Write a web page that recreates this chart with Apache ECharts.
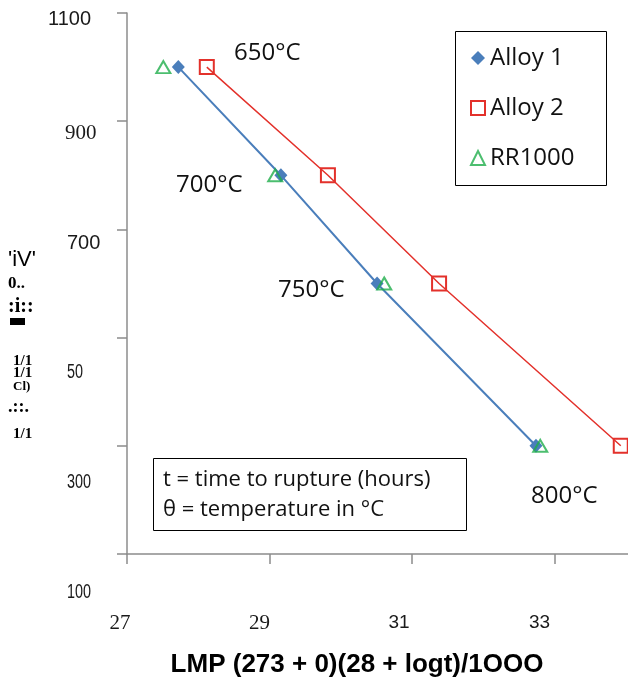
<!DOCTYPE html>
<html>
<head>
<meta charset="utf-8">
<script src="https://cdn.jsdelivr.net/npm/echarts@6/dist/echarts.min.js"></script>
<style>
  html, body { margin: 0; padding: 0; background: #ffffff; }
  #chart { width: 628px; height: 684px; }
</style>
</head>
<body>
<div id="chart"></div>
<script>
// Larson-Miller plot: rupture stress against LMP for three alloys
const stressLevels = [1000, 800, 600, 300];
const temperatureLabels = ['650°C', '700°C', '750°C', '800°C'];
const seriesNames = ['Alloy 1', 'Alloy 2', 'RR1000'];
const alloy1LMP = [27.72, 29.16, 30.51, 32.74];
const alloy2LMP = [28.12, 29.82, 31.38, 33.93];
const rr1000LMP = [27.51, 29.08, 30.61, 32.80];
const yTickValues = [1100, 900, 700, 500, 300, 100];
const yTickLabels = ['1100', '900', '700', '50', '300', '100'];
const xTickValues = [27, 29, 31, 33];
const xTickLabels = ['27', '29', '31', '33'];
const xAxisTitle = 'LMP (273 + 0)(28 + logt)/1OOO';
const noteLines = ['t = time to rupture (hours)', 'θ = temperature in °C'];
const sideLabelParts = ["'iV'", '0..', ':i::', '1/1', '1/1', 'Cl)', '.::.', '1/1'];

const BLUE = '#4a7ebb';
const RED = '#e3312b';
const GREEN = '#1fae4b';
const AXIS = '#8c8c8c';
const SANS = '"Liberation Sans", Arial, sans-serif';
const SERIF = '"Liberation Serif", "Times New Roman", serif';
const LABEL_FONT = '"Open Sans", sans-serif';

function pairs(xs, ys) { return xs.map((x, i) => [x, ys[i]]); }

const chart = echarts.init(document.getElementById('chart'), null, { renderer: 'canvas' });

const option = {
  backgroundColor: '#ffffff',
  animation: false,
  // the x range runs past the right edge of the canvas
  grid: { left: 127, top: 13, width: 570, height: 541, containLabel: false, outerBoundsMode: 'none' },
  xAxis: {
    type: 'value', min: 27, max: 35, interval: 2,
    axisLine: { show: true, lineStyle: { color: AXIS, width: 1.5 } },
    axisTick: { show: true, length: 10, lineStyle: { color: AXIS, width: 1.5 } },
    axisLabel: { show: false },
    splitLine: { show: false }
  },
  yAxis: {
    type: 'value', min: 100, max: 1100, interval: 200,
    axisLine: { show: true, lineStyle: { color: AXIS, width: 1.5 } },
    axisTick: { show: true, length: 10, lineStyle: { color: AXIS, width: 1.5 } },
    axisLabel: { show: false },
    splitLine: { show: false }
  },
  legend: {
    orient: 'vertical',
    left: 455, top: 31,
    padding: [12, 20, 12, 15],
    itemWidth: 14, itemHeight: 14, itemGap: 20,
    textStyle: { fontFamily: LABEL_FONT, fontSize: 24, color: '#111', lineHeight: 30 },
    data: [
      { name: seriesNames[0], icon: 'diamond', itemStyle: { color: BLUE, borderWidth: 0 } },
      { name: seriesNames[1], icon: 'rect', itemStyle: { color: '#ffffff', borderColor: RED, borderWidth: 2 } },
      { name: seriesNames[2], icon: 'triangle', itemStyle: { color: '#ffffff', borderColor: GREEN, borderWidth: 2 } }
    ]
  },
  series: [
    {
      name: seriesNames[0], type: 'line', data: pairs(alloy1LMP, stressLevels),
      symbol: 'diamond', symbolSize: [13, 14],
      itemStyle: { color: BLUE },
      lineStyle: { color: BLUE, width: 2 },
      z: 3
    },
    {
      name: seriesNames[1], type: 'line', data: pairs(alloy2LMP, stressLevels),
      symbol: 'rect', symbolSize: 14,
      itemStyle: { color: 'rgba(255,255,255,0)', borderColor: RED, borderWidth: 2 },
      lineStyle: { color: RED, width: 1.5 },
      z: 3
    },
    {
      name: seriesNames[2], type: 'scatter', data: pairs(rr1000LMP, stressLevels),
      symbol: 'triangle', symbolSize: [14, 12],
      itemStyle: { color: 'rgba(255,255,255,0)', borderColor: GREEN, borderWidth: 2 },
      z: 4
    }
  ]
};
chart.setOption(option);

// Tick label placement and typefaces
const yLabelStyle = [
  { x: 48, dy: 6, font: SANS, size: 20, sx: 1 },
  { x: 65, dy: 12, font: SERIF, size: 21, sx: 1 },
  { x: 67, dy: 14, font: SANS, size: 20, sx: 1 },
  { x: 67, dy: 35, font: SANS, size: 20, sx: 0.72 },
  { x: 67, dy: 37, font: SANS, size: 20, sx: 0.72 },
  { x: 67, dy: 38, font: SANS, size: 20, sx: 0.72 }
];
const xLabelStyle = [
  { dx: -7, font: SERIF, size: 21 },
  { dx: -10, font: SERIF, size: 21 },
  { dx: -13, font: SANS, size: 19 },
  { dx: -15, font: SANS, size: 19 }
];
const tempLabelPos = [[234, 53], [176, 185], [278, 290], [531, 496]];
const sideLabelStyle = [
  { x: 8, y: 260, font: SANS, size: 22, weight: 'normal' },
  { x: 8, y: 284, font: SERIF, size: 17, weight: 'bold' },
  { x: 8, y: 307, font: SERIF, size: 20, weight: 'bold' },
  { x: 13, y: 361, font: SERIF, size: 15, weight: 'bold' },
  { x: 13, y: 373, font: SERIF, size: 15, weight: 'bold' },
  { x: 13, y: 387, font: SERIF, size: 13, weight: 'bold' },
  { x: 8, y: 407, font: SERIF, size: 18, weight: 'bold' },
  { x: 13, y: 434, font: SERIF, size: 15, weight: 'bold' }
];

const graphics = [];

yTickValues.forEach((v, i) => {
  const py = chart.convertToPixel({ yAxisIndex: 0 }, v);
  const s = yLabelStyle[i];
  graphics.push({
    type: 'text', x: s.x, y: py + s.dy, scaleX: s.sx, originX: 0,
    style: { text: yTickLabels[i], fontFamily: s.font, fontSize: s.size, fill: '#1a1a1a', textVerticalAlign: 'middle', textAlign: 'left' }
  });
});

xTickValues.forEach((v, i) => {
  const px = chart.convertToPixel({ xAxisIndex: 0 }, v);
  const s = xLabelStyle[i];
  graphics.push({
    type: 'text', x: px + s.dx, y: 623,
    style: { text: xTickLabels[i], fontFamily: s.font, fontSize: s.size, fill: '#1a1a1a', textAlign: 'center', textVerticalAlign: 'middle' }
  });
});

graphics.push({
  type: 'text', x: 357, y: 665,
  style: { text: xAxisTitle, fontFamily: SANS, fontWeight: 'bold', fontSize: 26, fill: '#000', textAlign: 'center', textVerticalAlign: 'middle' }
});

temperatureLabels.forEach((t, i) => {
  graphics.push({
    type: 'text', x: tempLabelPos[i][0], y: tempLabelPos[i][1],
    style: { text: t, fontFamily: LABEL_FONT, fontSize: 24, fill: '#111', textAlign: 'left', textVerticalAlign: 'middle' }
  });
});

// Legend frame
graphics.push({
  type: 'rect', shape: { x: 455.5, y: 31.5, width: 151, height: 154 },
  style: { fill: 'none', stroke: '#000', lineWidth: 1 }, z: 10
});

// Note box
graphics.push({
  type: 'rect', shape: { x: 153.5, y: 458.5, width: 313, height: 72 },
  style: { fill: '#fff', stroke: '#000', lineWidth: 1 }, z: 10
});
noteLines.forEach((line, i) => {
  graphics.push({
    type: 'text', x: 163, y: 480 + i * 30, z: 11,
    style: { text: line, fontFamily: LABEL_FONT, fontSize: 22, fill: '#111', textAlign: 'left', textVerticalAlign: 'middle' }
  });
});

// Side caption
sideLabelParts.forEach((t, i) => {
  const s = sideLabelStyle[i];
  graphics.push({
    type: 'text', x: s.x, y: s.y,
    style: { text: t, fontFamily: s.font, fontSize: s.size, fontWeight: s.weight, fill: '#000', textAlign: 'left', textVerticalAlign: 'middle' }
  });
});
graphics.push({ type: 'rect', shape: { x: 10, y: 318, width: 15, height: 7 }, style: { fill: '#000' } });

chart.setOption({ graphic: graphics });
</script>
</body>
</html>
